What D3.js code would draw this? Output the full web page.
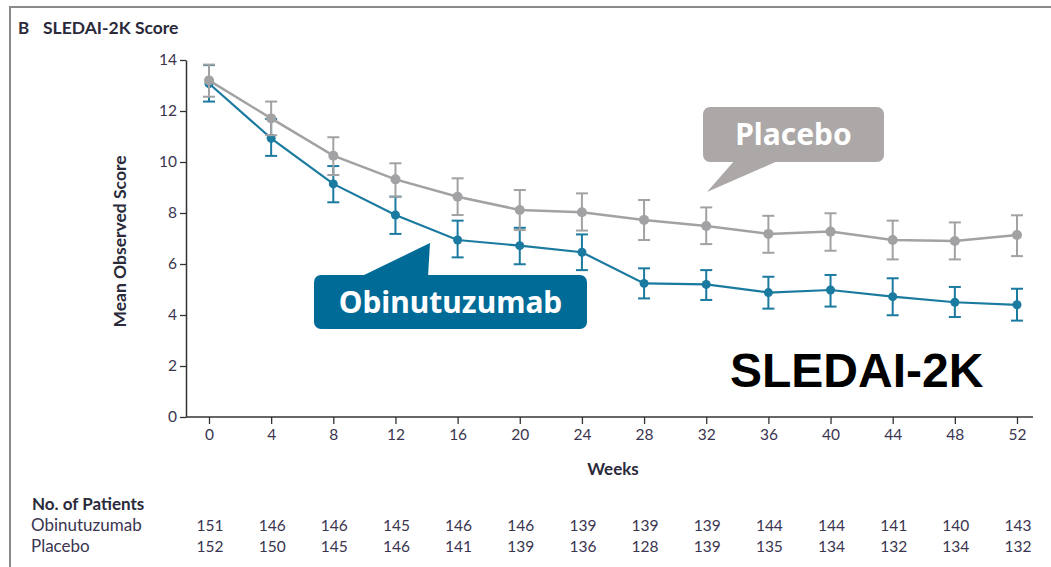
<!DOCTYPE html>
<html>
<head>
<meta charset="utf-8">
<script src="https://cdn.jsdelivr.net/npm/d3@7"></script>
<style>
  html, body { margin: 0; padding: 0; background: #fff; }
  svg { display: block; font-family: Lato, "Open Sans", sans-serif; }
</style>
</head>
<body>
<svg id="chart" width="1051" height="567"></svg>
<script>
// Weeks of assessment
const weeks = [0, 4, 8, 12, 16, 20, 24, 28, 32, 36, 40, 44, 48, 52];

// Mean observed SLEDAI-2K score with 95% CI bounds
const obinMean  = [13.08, 10.93, 9.14, 7.92, 6.94, 6.72, 6.46, 5.24, 5.20, 4.88, 4.98, 4.72, 4.50, 4.40];
const obinLow   = [12.37, 10.24, 8.42, 7.18, 6.26, 5.99, 5.76, 4.65, 4.59, 4.25, 4.33, 3.99, 3.92, 3.78];
const obinHigh  = [13.80, 11.69, 9.84, 8.64, 7.70, 7.42, 7.16, 5.83, 5.76, 5.50, 5.57, 5.44, 5.10, 5.03];

const placMean  = [13.20, 11.71, 10.25, 9.32, 8.64, 8.12, 8.03, 7.73, 7.49, 7.18, 7.27, 6.94, 6.90, 7.14];
const placLow   = [12.56, 11.05, 9.49, 8.64, 7.92, 7.33, 7.31, 6.94, 6.78, 6.44, 6.52, 6.18, 6.18, 6.31];
const placHigh  = [13.82, 12.37, 10.97, 9.95, 9.36, 8.90, 8.77, 8.51, 8.22, 7.89, 7.99, 7.70, 7.63, 7.91];

// Patients at risk
const obinN = [151, 146, 146, 145, 146, 146, 139, 139, 139, 144, 144, 141, 140, 143];
const placN = [152, 150, 145, 146, 141, 139, 136, 128, 139, 135, 134, 132, 134, 132];

const yTicks = [0, 2, 4, 6, 8, 10, 12, 14];

const svg = d3.select("#chart");
const ink = "#2a2a3a";
const tableInk = "#3a3550";

// Panel frame
svg.append("line").attr("x1", 10).attr("x2", 1051).attr("y1", 7).attr("y2", 7)
  .attr("stroke", "#8a8a8a").attr("stroke-width", 2);
svg.append("line").attr("x1", 10).attr("x2", 10).attr("y1", 6).attr("y2", 567)
  .attr("stroke", "#8a8a8a").attr("stroke-width", 2);

// Panel heading
svg.append("text").attr("x", 18).attr("y", 34)
  .style("font-size", "17px").style("font-weight", 700).attr("fill", ink).text("B");
svg.append("text").attr("x", 43).attr("y", 34)
  .style("font-size", "17.5px").style("font-weight", 700).attr("fill", ink).text("SLEDAI-2K Score");

// Scales
const x = d3.scaleLinear().domain([0, 52]).range([209, 1017]);
const y = d3.scaleLinear().domain([0, 14]).range([417, 60]);
const axisLeft = 186, axisRight = 1033;
const axisColor = "#333";

// Y axis
const gy = svg.append("g").attr("transform", `translate(${axisLeft},0)`)
  .call(d3.axisLeft(y).tickValues(yTicks).tickSize(6).tickPadding(3).tickSizeOuter(0));
gy.select(".domain").attr("stroke", axisColor).attr("stroke-width", 1.5);
gy.selectAll(".tick line").attr("stroke", axisColor).attr("stroke-width", 1.3);
gy.selectAll(".tick text").style("font-family", "Lato, sans-serif").style("font-size", "15.5px")
  .attr("fill", tableInk);

// X axis
const gx = svg.append("g").attr("transform", `translate(0,${y(0)})`)
  .call(d3.axisBottom(x).tickValues(weeks).tickSize(7).tickPadding(5).tickSizeOuter(0));
gx.select(".domain").attr("d", `M${axisLeft},0H${axisRight}`)
  .attr("stroke", axisColor).attr("stroke-width", 1.5);
gx.selectAll(".tick line").attr("stroke", axisColor).attr("stroke-width", 1.3);
gx.selectAll(".tick text").style("font-family", "Lato, sans-serif").style("font-size", "15.5px")
  .attr("fill", tableInk);

// Axis titles
svg.append("text")
  .attr("transform", `translate(126,${(y(0) + y(14)) / 2 + 3}) rotate(-90)`)
  .attr("text-anchor", "middle").style("font-size", "17.5px").style("font-weight", 700)
  .attr("fill", ink).text("Mean Observed Score");
svg.append("text").attr("x", 613).attr("y", 475).attr("text-anchor", "middle")
  .style("font-size", "17px").style("font-weight", 700).attr("fill", ink).text("Weeks");

// Series drawing
function drawSeries(mean, low, high, color, lineW, r) {
  const g = svg.append("g");
  const pts = weeks.map((w, i) => ({ w, m: mean[i], lo: low[i], hi: high[i] }));
  g.append("path").datum(pts)
    .attr("fill", "none").attr("stroke", color).attr("stroke-width", lineW)
    .attr("d", d3.line().x(d => x(d.w)).y(d => y(d.m)));
  const eb = g.selectAll("g.eb").data(pts).enter().append("g");
  eb.append("line").attr("x1", d => x(d.w)).attr("x2", d => x(d.w))
    .attr("y1", d => y(d.lo)).attr("y2", d => y(d.hi))
    .attr("stroke", color).attr("stroke-width", 2);
  [d => d.lo, d => d.hi].forEach(acc => {
    eb.append("line").attr("x1", d => x(d.w) - 6).attr("x2", d => x(d.w) + 6)
      .attr("y1", d => y(acc(d))).attr("y2", d => y(acc(d)))
      .attr("stroke", color).attr("stroke-width", 2);
  });
  g.selectAll("circle").data(pts).enter().append("circle")
    .attr("cx", d => x(d.w)).attr("cy", d => y(d.m)).attr("r", r).attr("fill", color);
}

drawSeries(obinMean, obinLow, obinHigh, "#1a7a9f", 2.2, 4.5);
drawSeries(placMean, placLow, placHigh, "#a2a2a4", 2.5, 5);

// Callout labels
function callout(bx, by, bw, bh, tail, fill, label, fontSize) {
  const g = svg.append("g");
  g.append("path").attr("d", `M${tail[0][0]},${tail[0][1]}L${tail[1][0]},${tail[1][1]}L${tail[2][0]},${tail[2][1]}Z`)
    .attr("fill", fill);
  g.append("rect").attr("x", bx).attr("y", by).attr("width", bw).attr("height", bh)
    .attr("rx", 7).attr("fill", fill);
  g.append("text").attr("x", bx + bw / 2).attr("y", by + bh / 2 + fontSize * 0.36)
    .attr("text-anchor", "middle")
    .style("font-family", "'Noto Sans', 'Open Sans', sans-serif")
    .style("font-weight", 700).style("font-size", fontSize + "px")
    .attr("fill", "#fff").text(label);
}

callout(703, 107, 181, 55, [[735, 160], [780, 160], [707, 192]], "#aba8a7", "Placebo", 30);
callout(314, 275, 273, 54, [[360, 277], [428, 277], [430, 243]], "#006b97", "Obinutuzumab", 30);

// Score name
svg.append("text").attr("x", 730).attr("y", 387)
  .style("font-family", "'Liberation Sans', Arial, sans-serif").style("font-weight", 700)
  .style("font-size", "48px").attr("fill", "#000").text("SLEDAI-2K");

// Number of patients table
svg.append("text").attr("x", 32).attr("y", 510).style("font-size", "17px").style("font-weight", 700)
  .attr("fill", ink).text("No. of Patients");
const rows = [{ name: "Obinutuzumab", n: obinN, yy: 531 }, { name: "Placebo", n: placN, yy: 552 }];
rows.forEach(r => {
  svg.append("text").attr("x", 31).attr("y", r.yy).style("font-size", "17px")
    .attr("fill", tableInk).text(r.name);
  svg.append("g").selectAll("text").data(r.n).enter().append("text")
    .attr("x", (d, i) => x(weeks[i]) + 1).attr("y", r.yy).attr("text-anchor", "middle")
    .style("font-size", "15.5px").attr("fill", tableInk).text(d => d);
});
</script>
</body>
</html>
